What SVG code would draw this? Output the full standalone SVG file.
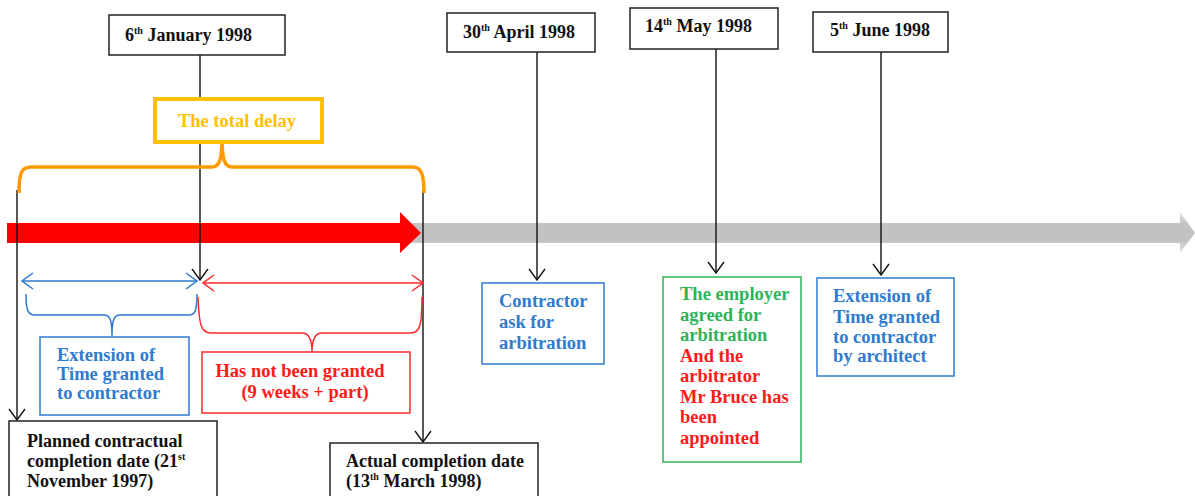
<svg xmlns="http://www.w3.org/2000/svg" width="1195" height="496" viewBox="0 0 1195 496">
  <style>
    text { font-family: "Liberation Serif", "Times New Roman", serif; font-weight: bold; font-size: 18px; }
    .date { fill: #111; }
    .box { fill: #fff; stroke: #222; stroke-width: 1.5; }
    .blue { fill: #2E7BCF; font-size: 18.5px; }
    .red { fill: #FF1A1A; font-size: 18.5px; }
    .green { fill: #2DB45A; font-size: 18.5px; }
    .conn { stroke: #111; stroke-width: 1.4; fill: none; }
    .sup { font-size: 10px; }
  </style>
  <defs>
    <marker id="vhead" viewBox="0 0 14 20" refX="13" refY="10" markerWidth="14" markerHeight="20" markerUnits="userSpaceOnUse" orient="auto-start-reverse">
      <polyline points="2,2 13,10 2,18" fill="none" stroke="#111" stroke-width="1.4"/>
    </marker>
    <marker id="blueHead" viewBox="0 0 14 20" refX="13" refY="10" markerWidth="14" markerHeight="20" markerUnits="userSpaceOnUse" orient="auto-start-reverse">
      <polyline points="2,2 13,10 2,18" fill="none" stroke="#2E7BCF" stroke-width="1.5"/>
    </marker>
    <marker id="redHead" viewBox="0 0 14 20" refX="13" refY="10" markerWidth="14" markerHeight="20" markerUnits="userSpaceOnUse" orient="auto-start-reverse">
      <polyline points="2,2 13,10 2,18" fill="none" stroke="#FF2A2A" stroke-width="1.5"/>
    </marker>
    <linearGradient id="greyBand" x1="0" y1="0" x2="0" y2="1">
      <stop offset="0" stop-color="#E4E4E4"/>
      <stop offset="0.3" stop-color="#C2C2C2"/>
      <stop offset="0.7" stop-color="#C2C2C2"/>
      <stop offset="1" stop-color="#E4E4E4"/>
    </linearGradient>
  </defs>

  <!-- time axis: grey future part and red elapsed part -->
  <g id="timeline">
    <polygon points="400,223 1180,223 1180,212 1195,233 1180,253 1180,243 400,243" fill="url(#greyBand)"/>
    <polygon points="7,223 400,223 400,212 421,233 400,253 400,243 7,243" fill="#FF0000"/>
  </g>

  <!-- connectors -->
  <g id="connectors">
    <line class="conn" x1="17" y1="190" x2="17" y2="420" marker-end="url(#vhead)"/>
    <line class="conn" x1="200" y1="55" x2="200" y2="280" marker-end="url(#vhead)"/>
    <line class="conn" x1="423" y1="190" x2="423" y2="442" marker-end="url(#vhead)"/>
    <line class="conn" x1="537" y1="52" x2="537" y2="280" marker-end="url(#vhead)"/>
    <line class="conn" x1="716" y1="49" x2="716" y2="273" marker-end="url(#vhead)"/>
    <line class="conn" x1="881" y1="52" x2="881" y2="275" marker-end="url(#vhead)"/>

    <!-- span arrows -->
    <line x1="22" y1="281" x2="197" y2="281" stroke="#2E7BCF" stroke-width="1.5" marker-start="url(#blueHead)" marker-end="url(#blueHead)"/>
    <line x1="203" y1="283" x2="423" y2="283" stroke="#FF2A2A" stroke-width="1.5" marker-start="url(#redHead)" marker-end="url(#redHead)"/>

    <!-- braces -->
    <path d="M19,193 C19,174 21,167 31,167 L212,167 C219,167 222,160 222,139 C222,160 225,167 232,167 L413,167 C421,167 424,174 424,193" fill="none" stroke="#FF9A00" stroke-width="3.5"/>
    <path d="M26,294 C26,311 28,315 35,315 L104,315 C110,315 112,320 112,336 C112,320 114,315 120,315 L189,315 C195,315 197,311 197,294" fill="none" stroke="#2E7BCF" stroke-width="1.5"/>
    <path d="M198,297 C199,325 201,333 211,333 L302,333 C309,333 312,340 312,352 C312,340 315,333 322,333 L411,333 C420,333 422,325 422,297" fill="none" stroke="#FF2A2A" stroke-width="1.5"/>
  </g>

  <!-- date nodes -->
  <g id="date-jan">
    <rect class="box" x="109" y="15" width="176" height="40"/>
    <text class="date" x="125" y="41">6<tspan class="sup" dy="-7">th</tspan><tspan dy="7"> January 1998</tspan></text>
  </g>
  <g id="date-apr">
    <rect class="box" x="447" y="13" width="148" height="39"/>
    <text class="date" x="463" y="38">30<tspan class="sup" dy="-7">th</tspan><tspan dy="7"> April 1998</tspan></text>
  </g>
  <g id="date-may">
    <rect class="box" x="630" y="8" width="148" height="41"/>
    <text class="date" x="645" y="32">14<tspan class="sup" dy="-7">th</tspan><tspan dy="7"> May 1998</tspan></text>
  </g>
  <g id="date-jun">
    <rect class="box" x="813" y="12" width="135" height="40"/>
    <text class="date" x="830" y="36">5<tspan class="sup" dy="-7">th</tspan><tspan dy="7"> June 1998</tspan></text>
  </g>

  <!-- total delay label -->
  <g id="total-delay">
    <rect x="155" y="99" width="167" height="43" fill="#fff" stroke="#FFC000" stroke-width="4"/>
    <text x="237" y="127" text-anchor="middle" fill="#FFC000" style="font-size:18.5px">The total delay</text>
  </g>

  <!-- completion dates -->
  <g id="planned-completion">
    <rect class="box" x="9" y="421" width="208" height="80"/>
    <text class="date" x="27" y="447">Planned contractual</text>
    <text class="date" x="27" y="467">completion date (21<tspan class="sup" dy="-7">st</tspan></text>
    <text class="date" x="27" y="487">November 1997)</text>
  </g>
  <g id="actual-completion">
    <rect class="box" x="330" y="443" width="208" height="60"/>
    <text class="date" x="346" y="467">Actual completion date</text>
    <text class="date" x="346" y="487">(13<tspan class="sup" dy="-7">th</tspan><tspan dy="7"> March 1998)</tspan></text>
  </g>

  <!-- span descriptions -->
  <g id="eot-granted">
    <rect x="40" y="337" width="149" height="78" fill="#fff" stroke="#2E7BCF" stroke-width="1.5"/>
    <text class="blue" x="57" y="361">Extension of</text>
    <text class="blue" x="57" y="380">Time granted</text>
    <text class="blue" x="57" y="399">to contractor</text>
  </g>
  <g id="not-granted">
    <rect x="202" y="352" width="208" height="61" fill="#fff" stroke="#FF2A2A" stroke-width="1.5"/>
    <text class="red" x="300" y="377" text-anchor="middle">Has not been granted</text>
    <text class="red" x="305" y="398" text-anchor="middle">(9 weeks + part)</text>
  </g>

  <!-- event nodes -->
  <g id="ask-arbitration">
    <rect x="482" y="283" width="122" height="81" fill="#fff" stroke="#2E7BCF" stroke-width="1.5"/>
    <text class="blue" x="499" y="307">Contractor</text>
    <text class="blue" x="499" y="328">ask for</text>
    <text class="blue" x="499" y="349">arbitration</text>
  </g>
  <g id="arbitrator-appointed">
    <rect x="663" y="277" width="138" height="185" fill="#fff" stroke="#2DB45A" stroke-width="1.5"/>
    <text class="green" x="680" y="300">The employer</text>
    <text class="green" x="680" y="321">agreed for</text>
    <text class="green" x="680" y="341">arbitration</text>
    <text class="red" x="680" y="362">And the</text>
    <text class="red" x="680" y="382">arbitrator</text>
    <text class="red" x="680" y="403">Mr Bruce has</text>
    <text class="red" x="680" y="423">been</text>
    <text class="red" x="680" y="444">appointed</text>
  </g>
  <g id="eot-architect">
    <rect x="817" y="278" width="137" height="98" fill="#fff" stroke="#2E7BCF" stroke-width="1.5"/>
    <text class="blue" x="833" y="302">Extension of</text>
    <text class="blue" x="833" y="323">Time granted</text>
    <text class="blue" x="833" y="343">to contractor</text>
    <text class="blue" x="833" y="362">by architect</text>
  </g>
</svg>
